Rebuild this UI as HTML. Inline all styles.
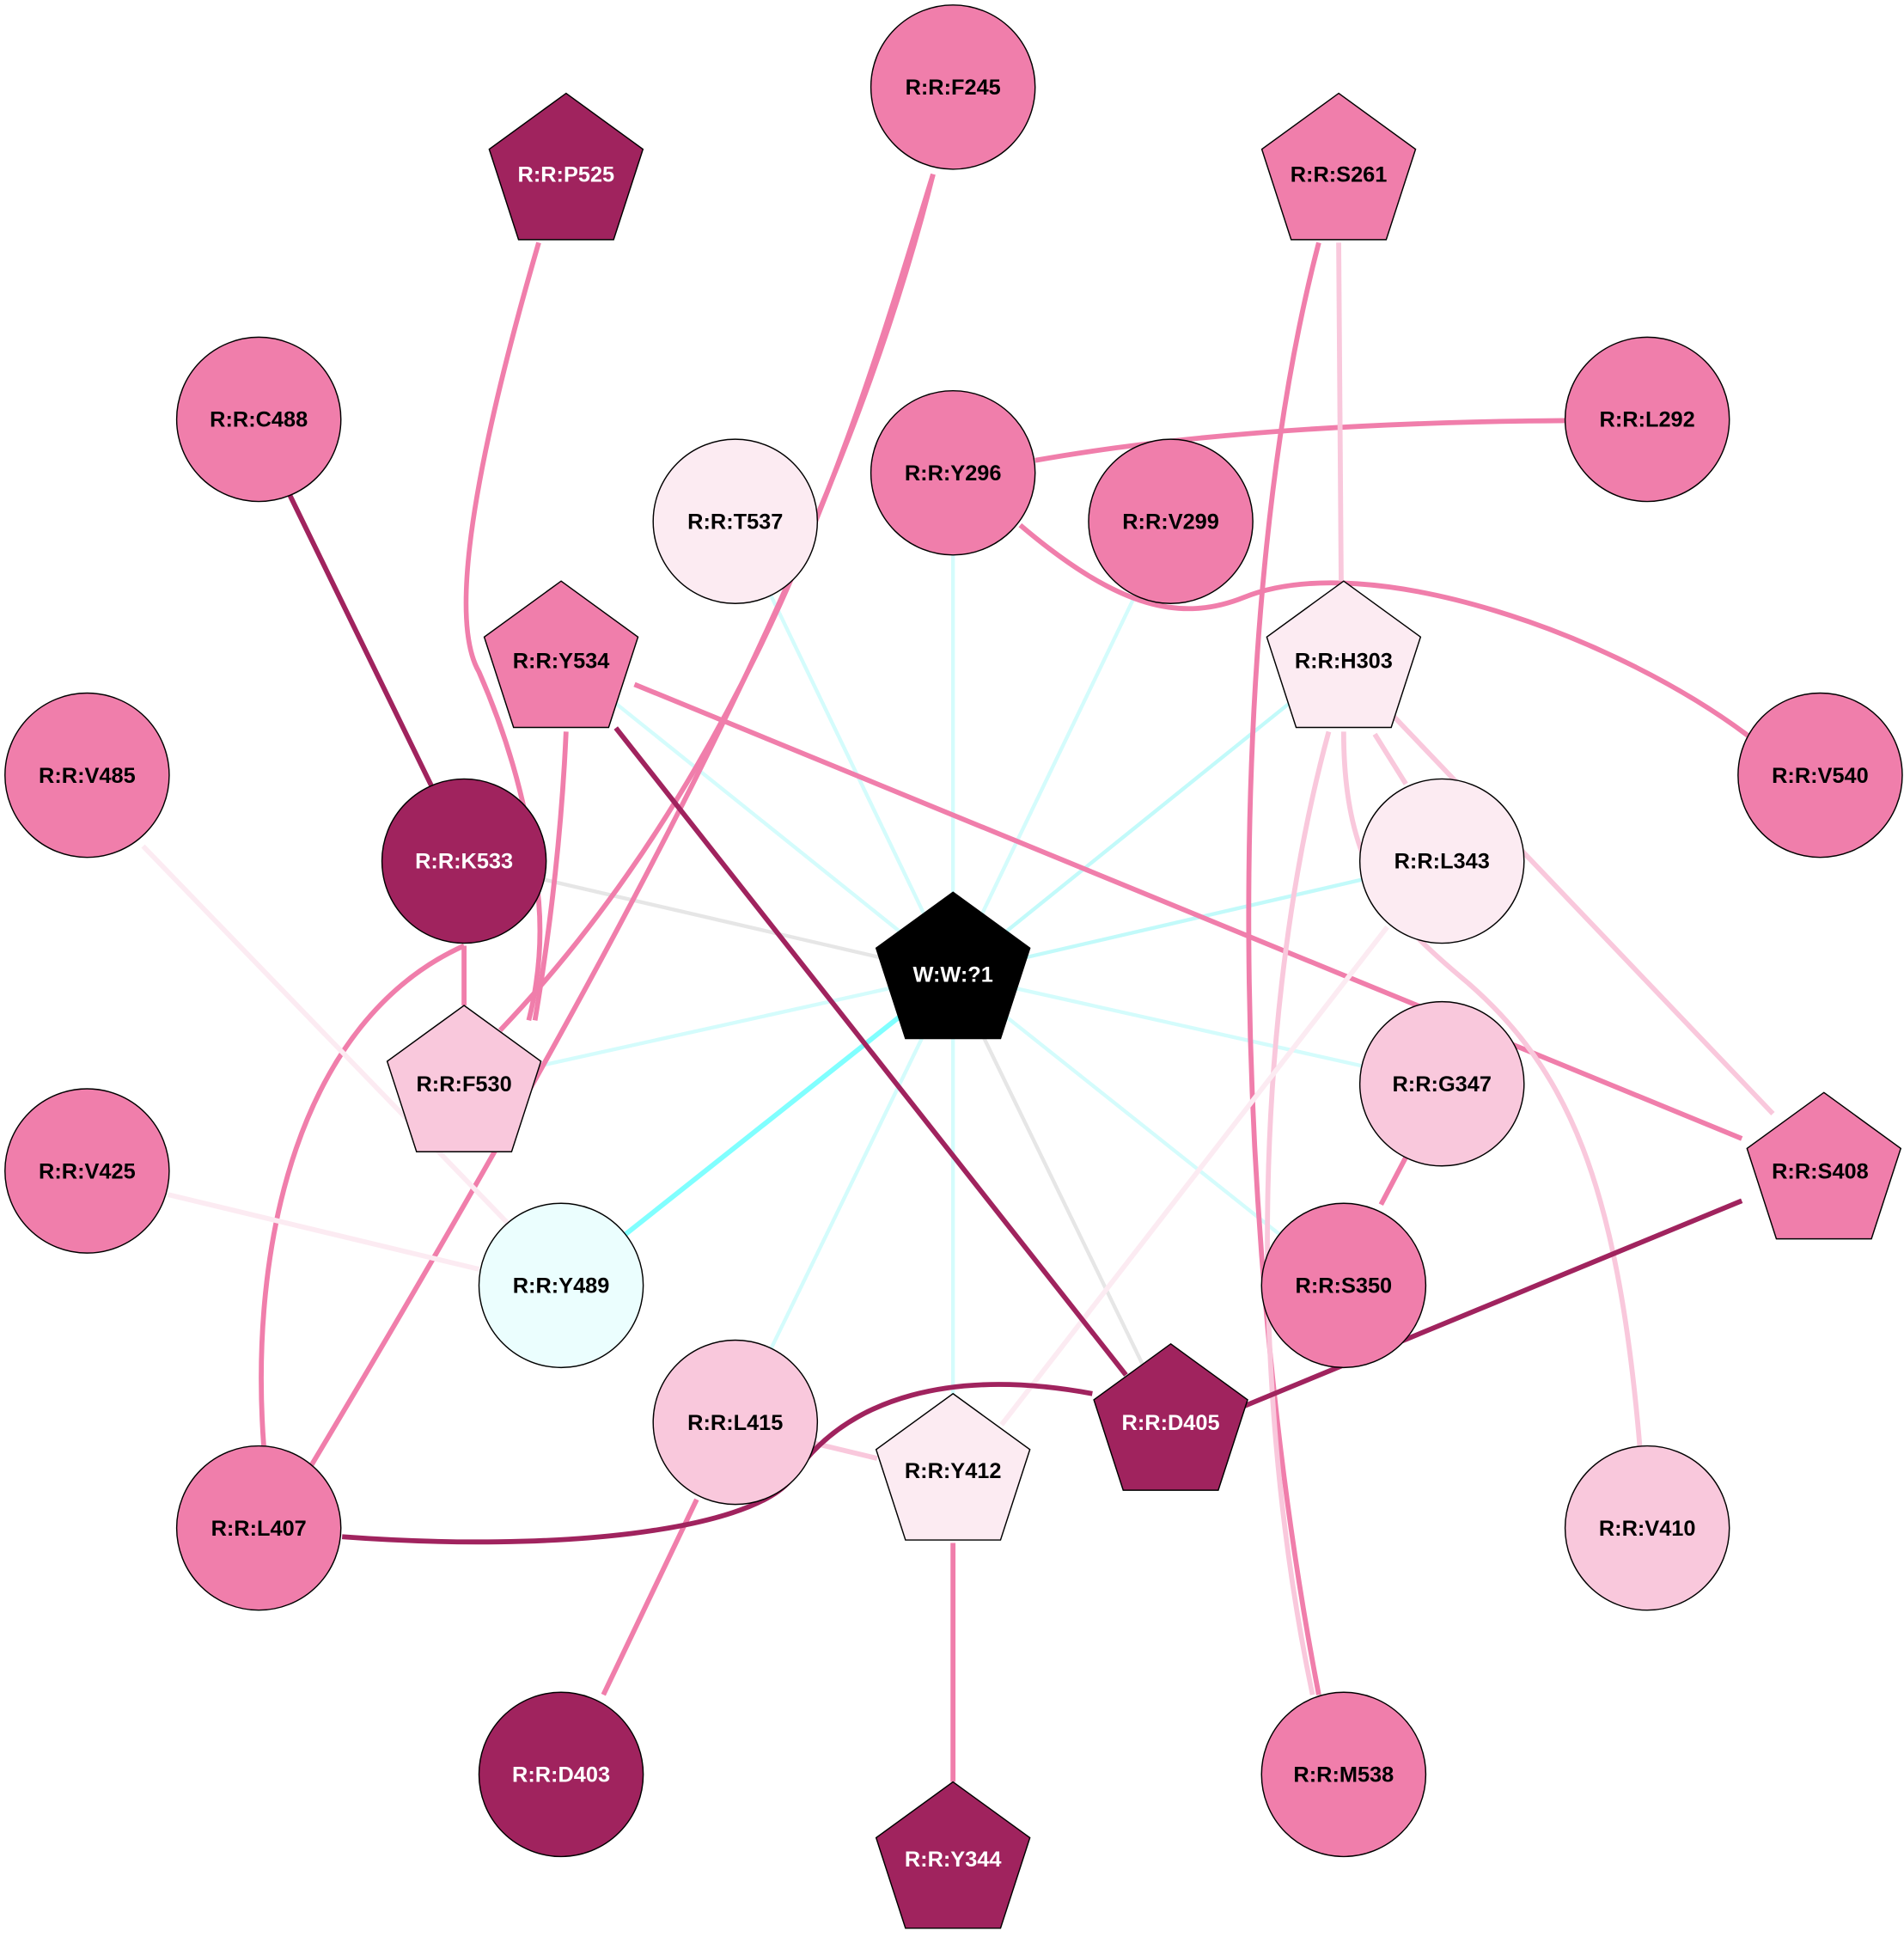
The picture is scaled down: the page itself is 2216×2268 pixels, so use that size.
<!DOCTYPE html>
<html><head><meta charset="utf-8"><style>html,body{margin:0;padding:0;background:#fff}svg{display:block}</style></head>
<body>
<svg width="2216" height="2268" viewBox="0 0 2216 2268" xmlns="http://www.w3.org/2000/svg">
<g transform="scale(1.448)" font-family="Liberation Sans, sans-serif" font-weight="bold" font-size="17.5" text-anchor="middle">
<g fill="none" stroke-width="3">
<g stroke="#d4fcfc">
<line x1="766" y1="783" x2="591" y2="419"/>
<line x1="766" y1="783" x2="766" y2="380"/>
<line x1="766" y1="783" x2="941" y2="419"/>
<line x1="766" y1="783" x2="1080" y2="530" stroke="#c2fafa"/>
<line x1="766" y1="783" x2="1159" y2="692" stroke="#c2fafa"/>
<line x1="766" y1="783" x2="1159" y2="871"/>
<line x1="766" y1="783" x2="1080" y2="1033"/>
<line x1="766" y1="783" x2="766" y2="1182"/>
<line x1="766" y1="783" x2="591" y2="1143"/>
<line x1="766" y1="783" x2="373" y2="870"/>
<line x1="766" y1="783" x2="451" y2="530"/>
</g>
<line x1="766" y1="783" x2="451" y2="1033" stroke="#80ffff" stroke-width="4"/>
<line x1="766" y1="783" x2="373" y2="692" stroke="#e6e6e6"/>
<line x1="766" y1="783" x2="941" y2="1143" stroke="#e6e6e6"/>
<g stroke="#f07eab" stroke-width="4">
<path d="M433,195 Q350,480 385,540 Q420,620 430,700 Q440,760 425,820"/>
<path d="M750,140 C700,300 620,600 402,828"/>
<path d="M750,140 C690,380 560,660 250,1178"/>
<path d="M373,760 C240,820 200,1000 212,1162"/>
<line x1="373" y1="760" x2="373" y2="808"/>
<path d="M455,588 Q450,700 430,820"/>
<line x1="510" y1="550" x2="1400" y2="915"/>
<path d="M832,370 Q1000,340 1258,338"/>
<path d="M820,422 C900,490 950,500 1000,480 C1100,440 1300,510 1410,595"/>
<path d="M1060,195 C980,500 990,1000 1060,1362"/>
<line x1="1130" y1="930" x2="1110" y2="968"/>
<line x1="560" y1="1205" x2="485" y2="1362"/>
<line x1="766" y1="1240" x2="766" y2="1432"/>
</g>
<g stroke="#f9c8dc" stroke-width="4">
<line x1="1076" y1="195" x2="1078" y2="467"/>
<path d="M1068,588 C1010,800 1000,1100 1055,1362"/>
<path d="M1080,588 C1080,700 1120,740 1180,790 C1260,860 1300,950 1318,1162"/>
<line x1="1110" y1="565" x2="1425" y2="895"/>
<line x1="1105" y1="590" x2="1130" y2="630"/>
<line x1="655" y1="1160" x2="705" y2="1172"/>
</g>
<g stroke="#fcebf2" stroke-width="4">
<line x1="1115" y1="745" x2="805" y2="1145"/>
<line x1="115" y1="680" x2="410" y2="985"/>
<line x1="135" y1="960" x2="385" y2="1020"/>
</g>
<g stroke="#a0235e" stroke-width="4">
<line x1="233" y1="398" x2="347" y2="632"/>
<line x1="495" y1="585" x2="905" y2="1105"/>
<line x1="1400" y1="965" x2="1000" y2="1130"/>
<path d="M275,1235 C450,1248 600,1230 635,1190 C680,1120 770,1100 878,1120"/>
</g>
</g>
<g stroke="#000" stroke-width="1">
<circle cx="766" cy="70" r="66" fill="#f07eab"/>
<circle cx="208" cy="337" r="66" fill="#f07eab"/>
<circle cx="766" cy="380" r="66" fill="#f07eab"/>
<circle cx="1324" cy="337" r="66" fill="#f07eab"/>
<circle cx="591" cy="419" r="66" fill="#fcebf2"/>
<circle cx="941" cy="419" r="66" fill="#f07eab"/>
<circle cx="70" cy="623" r="66" fill="#f07eab"/>
<circle cx="373" cy="692" r="66" fill="#a0235e"/>
<circle cx="1159" cy="692" r="66" fill="#fcebf2"/>
<circle cx="1463" cy="623" r="66" fill="#f07eab"/>
<circle cx="70" cy="941" r="66" fill="#f07eab"/>
<circle cx="1159" cy="871" r="66" fill="#f9c8dc"/>
<circle cx="451" cy="1033" r="66" fill="#ebfefe"/>
<circle cx="1080" cy="1033" r="66" fill="#f07eab"/>
<circle cx="591" cy="1143" r="66" fill="#f9c8dc"/>
<circle cx="208" cy="1228" r="66" fill="#f07eab"/>
<circle cx="1324" cy="1228" r="66" fill="#f9c8dc"/>
<circle cx="451" cy="1426" r="66" fill="#a0235e"/>
<circle cx="1080" cy="1426" r="66" fill="#f07eab"/>
<polygon transform="translate(455,140)" points="0,-65 61.8,-20.1 38.2,52.6 -38.2,52.6 -61.8,-20.1" fill="#a0235e"/>
<polygon transform="translate(1076,140)" points="0,-65 61.8,-20.1 38.2,52.6 -38.2,52.6 -61.8,-20.1" fill="#f07eab"/>
<polygon transform="translate(451,532)" points="0,-65 61.8,-20.1 38.2,52.6 -38.2,52.6 -61.8,-20.1" fill="#f07eab"/>
<polygon transform="translate(1080,532)" points="0,-65 61.8,-20.1 38.2,52.6 -38.2,52.6 -61.8,-20.1" fill="#fcebf2"/>
<polygon transform="translate(766,782)" points="0,-65 61.8,-20.1 38.2,52.6 -38.2,52.6 -61.8,-20.1" fill="#000"/>
<polygon transform="translate(373,873)" points="0,-65 61.8,-20.1 38.2,52.6 -38.2,52.6 -61.8,-20.1" fill="#f9c8dc"/>
<polygon transform="translate(1466,943)" points="0,-65 61.8,-20.1 38.2,52.6 -38.2,52.6 -61.8,-20.1" fill="#f07eab"/>
<polygon transform="translate(941,1145)" points="0,-65 61.8,-20.1 38.2,52.6 -38.2,52.6 -61.8,-20.1" fill="#a0235e"/>
<polygon transform="translate(766,1185)" points="0,-65 61.8,-20.1 38.2,52.6 -38.2,52.6 -61.8,-20.1" fill="#fcebf2"/>
<polygon transform="translate(766,1497)" points="0,-65 61.8,-20.1 38.2,52.6 -38.2,52.6 -61.8,-20.1" fill="#a0235e"/>
</g>
<g fill="#000">
<text x="766" y="76">R:R:F245</text>
<text x="208" y="343">R:R:C488</text>
<text x="766" y="386">R:R:Y296</text>
<text x="1324" y="343">R:R:L292</text>
<text x="591" y="425">R:R:T537</text>
<text x="941" y="425">R:R:V299</text>
<text x="70" y="629">R:R:V485</text>
<text x="1159" y="698">R:R:L343</text>
<text x="1463" y="629">R:R:V540</text>
<text x="70" y="947">R:R:V425</text>
<text x="1159" y="877">R:R:G347</text>
<text x="451" y="1039">R:R:Y489</text>
<text x="1080" y="1039">R:R:S350</text>
<text x="591" y="1149">R:R:L415</text>
<text x="208" y="1234">R:R:L407</text>
<text x="1324" y="1234">R:R:V410</text>
<text x="1080" y="1432">R:R:M538</text>
<text x="1076" y="146">R:R:S261</text>
<text x="451" y="537">R:R:Y534</text>
<text x="1080" y="537">R:R:H303</text>
<text x="373" y="877">R:R:F530</text>
<text x="1463" y="947">R:R:S408</text>
<text x="766" y="1188">R:R:Y412</text>
</g>
<g fill="#fff">
<text x="373" y="698">R:R:K533</text>
<text x="451" y="1432">R:R:D403</text>
<text x="455" y="146">R:R:P525</text>
<text x="766" y="789">W:W:?1</text>
<text x="941" y="1149">R:R:D405</text>
<text x="766" y="1500">R:R:Y344</text>
</g>
</g>
</svg>
</body></html>
